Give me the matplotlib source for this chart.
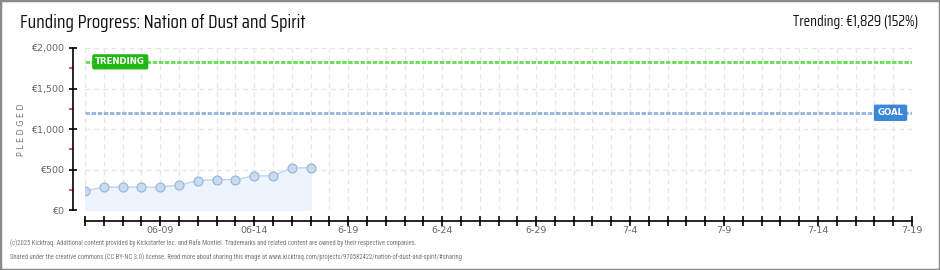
import matplotlib.pyplot as plt
import pandas as pd
from matplotlib.patches import Rectangle

# data
days = ["2025-06-05", "2025-06-06", "2025-06-07", "2025-06-08", "2025-06-09",
        "2025-06-10", "2025-06-11", "2025-06-12", "2025-06-13", "2025-06-14",
        "2025-06-15", "2025-06-16", "2025-06-17"]
pledged = [237, 283, 283, 283, 283, 308, 362, 375, 375, 421, 421, 521, 521]
goal = 1200
trending = 1829
x_start, x_end = "2025-06-05", "2025-07-19"
tick_days = ["2025-06-09", "2025-06-14", "2025-06-19", "2025-06-24", "2025-06-29",
             "2025-07-04", "2025-07-09", "2025-07-14", "2025-07-19"]
tick_labels = ["06-09", "06-14", "6-19", "6-24", "6-29", "7-4", "7-9", "7-14", "7-19"]
y_ticks = [0, 500, 1000, 1500, 2000]
y_labels = ["€0", "€500", "€1,000", "€1,500", "€2,000"]
y_minor = [250, 750, 1250, 1750]

title_font = ["Saira Condensed", "DejaVu Sans"]
small_font = ["Roboto Condensed", "DejaVu Sans"]
W, H = 940, 270

fig = plt.figure(figsize=(9.4, 2.7), dpi=100)
fig.patch.set_facecolor("white")
ax = fig.add_axes([85 / W, 60 / H, 827 / W, 162 / H])

x = pd.to_datetime(days)
x0, x1 = pd.to_datetime(x_start), pd.to_datetime(x_end)

# daily dashed grid
all_days = pd.date_range(x0, x1, freq="D")
for d in all_days:
    ax.axvline(d, color="#e6e6e6", lw=0.9, ls=(0, (4, 3)), zorder=0)
for v in y_ticks:
    ax.axhline(v, color="#e6e6e6", lw=0.9, ls=(0, (4, 3)), zorder=0)

ax.fill_between(x, pledged, 0, color="#edf4fd", zorder=1)
ax.plot(x, pledged, color="#bcd6f2", lw=1, zorder=2)
ax.plot(x, pledged, "o", ms=6.5, mfc="#c4dbf5", mec="#9db3cc", mew=0.8, zorder=3)

ax.axhline(goal, color="#93b3da", lw=2, ls=(0, (1.6, 0.6)), zorder=2)
ax.axhline(trending, color="#67dc56", lw=2, ls=(0, (1.6, 0.6)), zorder=2)

ax.text(x0 + pd.Timedelta(days=0.55), trending, "TRENDING", color="white",
        fontsize=6.2, fontweight="bold", ha="left", va="center", zorder=5,
        bbox=dict(boxstyle="round,pad=0.28,rounding_size=0.15", fc="#1fb713", ec="#1fb713"))
ax.text(x1 - pd.Timedelta(days=0.45), goal, "GOAL", color="white",
        fontsize=6.2, fontweight="bold", ha="right", va="center", zorder=5,
        bbox=dict(boxstyle="round,pad=0.35,rounding_size=0.15", fc="#3b87d8", ec="#3b87d8"))

ax.set_xlim(x0, x1)
ax.set_ylim(0, 2000)

for s in ["top", "right"]:
    ax.spines[s].set_visible(False)
ax.spines["left"].set_position(("outward", 9))
ax.spines["bottom"].set_position(("outward", 8))
ax.spines["left"].set_linewidth(1.2)
ax.spines["bottom"].set_linewidth(1.2)

ax.set_yticks(y_ticks)
ax.set_yticklabels(y_labels)
ax.set_yticks(y_minor, minor=True)
ax.tick_params(axis="y", which="major", direction="inout", length=6, width=1.2,
               labelsize=6.8, labelcolor="#666666", pad=3)
ax.tick_params(axis="y", which="minor", direction="out", length=3, width=1.2, color="#e03030")

ax.set_xticks(all_days, minor=True)
ax.set_xticks(pd.to_datetime(tick_days))
ax.set_xticklabels(tick_labels)
ax.tick_params(axis="x", which="both", direction="inout", length=7, width=1.2,
               labelsize=6.8, labelcolor="#666666", pad=0)

fig.text(22 / W, 1 - 130 / H, "P L E D G E D", rotation=90, ha="center", va="center",
         fontsize=5.8, color="#777777")

fig.text(20 / W, 1 - 23 / H, "Funding Progress: Nation of Dust and Spirit",
         ha="left", va="center", fontsize=13.6, family=title_font, color="#111111")
fig.text(918 / W, 1 - 22 / H, "Trending: €1,829 (152%)",
         ha="right", va="center", fontsize=10.8, family=title_font, color="#111111")

fig.text(10 / W, 1 - 243 / H,
         "(c)2025 Kicktraq. Additional content provided by Kickstarter Inc. and Rafa Montiel. "
         "Trademarks and related content are owned by their respective companies.",
         ha="left", va="center", fontsize=4.8, family=small_font, color="#777777")
fig.text(10 / W, 1 - 257 / H,
         "Shared under the creative commons (CC BY-NC 3.0) license. Read more about sharing this image at "
         "www.kicktraq.com/projects/970582422/nation-of-dust-and-spirit/#sharing",
         ha="left", va="center", fontsize=4.8, family=small_font, color="#777777")

fig.patches.append(Rectangle((0, 0), 1, 1, transform=fig.transFigure, fill=False,
                             ec="#8a8a8a", lw=2.5, zorder=10))

fig.savefig("out.png", dpi=100)
